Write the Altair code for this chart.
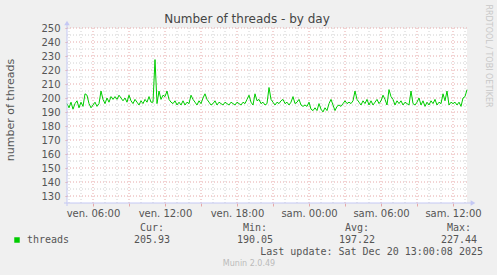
import altair as alt
import pandas as pd

# ---- data ----
threads = [
    196, 193, 197, 192, 196, 198, 193, 197, 194, 203,
    202, 196, 193, 195, 197, 194, 196, 205, 199, 196,
    200, 197, 201, 199, 201, 199, 202, 200, 198, 200,
    197, 202, 198, 196, 199, 197, 195, 198, 196, 199,
    197, 201, 197, 197, 227.44, 196, 205, 199, 202, 201,
    205, 199, 197, 196, 198, 195, 197, 195, 198, 195,
    197, 196, 202, 199, 197, 195, 198, 196, 200, 203,
    199, 197, 195, 196, 198, 195, 197, 196, 195, 197,
    196, 195, 197, 196, 195, 197, 196, 195, 197, 196,
    199, 202, 197, 195, 203, 198, 199, 196, 197, 195,
    196, 207.5, 199, 197, 195, 197, 196, 198, 199, 196,
    197, 195, 197, 201, 196, 197, 199, 195, 194, 195,
    194, 197, 192, 191, 193, 191, 196, 192, 190.05, 193,
    191, 196, 199, 195, 191, 194, 195, 194, 196, 198,
    196, 197, 196, 198, 205, 199, 197, 195, 198, 196,
    199, 195, 198, 195, 197, 199, 196, 198, 202, 199,
    195, 206, 201, 199, 195, 198, 196, 198, 195, 197,
    196, 195, 205, 196, 195, 197, 200, 195, 198, 194,
    197, 195, 198, 196, 199, 195, 197, 196, 203, 198,
    205, 195, 197, 196, 197, 195, 197, 194, 200, 201,
    205.93,
]
start_hour = 3 + 50 / 60          # ven. 03:50
step_hours = 10 / 60              # 10 minute samples
end_hour = start_hour + 400 / 12  # 33h20 window

y_major = list(range(130, 251, 10))
y_minor = list(range(135, 250, 10))
x_major = list(range(6, 37, 3))
x_minor = [h for h in range(4, 38) if h % 3 != 0]
label_hours = [6, 12, 18, 24, 30, 36]
label_texts = ["ven. 06:00", "ven. 12:00", "ven. 18:00",
               "sam. 00:00", "sam. 06:00", "sam. 12:00"]

title_text = "Number of threads - by day"
y_title = "number of threads"
series_name = "threads"
stat_names = ["Cur:", "Min:", "Avg:", "Max:"]
stat_values = ["205.93", "190.05", "197.22", "227.44"]
last_update = "Last update: Sat Dec 20 13:00:08 2025"
footer = "Munin 2.0.49"
side_text = "RRDTOOL / TOBI OETIKER"

# ---- build ----
df = pd.DataFrame({
    "hour": [start_hour + i * step_hours for i in range(len(threads))],
    "threads": threads,
})

xs = alt.Scale(domain=[start_hour, end_hour], nice=False, zero=False)
ys = alt.Scale(domain=[125, 250], nice=False, zero=False)

expr = "''"
for h, t in reversed(list(zip(label_hours, label_texts))):
    expr = f"datum.value == {h} ? '{t}' : ({expr})"

ax_x = alt.Axis(
    values=x_major, labelExpr=expr, grid=False, domain=False,
    ticks=True, tickSize=3, tickColor="#e6a8a8", title=None,
    labelFont="DejaVu Sans", labelFontSize=10, labelColor="#555555",
    labelPadding=2, labelFlush=False, labelOverlap=False)
ax_y = alt.Axis(
    values=y_major, grid=False, domain=False, ticks=True, tickSize=2,
    tickColor="#e6a8a8", title=None, labelFont="DejaVu Sans",
    labelFontSize=10, labelColor="#555555", labelPadding=5,
    labelFlush=False, labelOverlap=False)


def hrules(vals, color):
    return alt.Chart(pd.DataFrame({"v": vals})).mark_rule(
        color=color, strokeDash=[1, 2], strokeWidth=1
    ).encode(y=alt.Y("v:Q", scale=ys, axis=ax_y))


def vrules(vals, color):
    return alt.Chart(pd.DataFrame({"v": vals})).mark_rule(
        color=color, strokeDash=[1, 2], strokeWidth=1
    ).encode(x=alt.X("v:Q", scale=xs, axis=ax_x))


def txt(s, x, y, size=10, color="#555555", font="DejaVu Sans Mono",
        align="left", angle=0, baseline="middle"):
    return alt.Chart(pd.DataFrame({"t": [s]})).mark_text(
        fontSize=size, color=color, font=font, align=align,
        baseline=baseline, angle=angle
    ).encode(text="t:N", x=alt.value(x), y=alt.value(y))


grid = [
    hrules(y_minor, "#d0d0d0"),
    vrules(x_minor, "#d0d0d0"),
    hrules(y_major, "#e6a8a8"),
    vrules(x_major, "#e6a8a8"),
]

line = alt.Chart(df).mark_line(color="#00cc00", strokeWidth=1).encode(
    x=alt.X("hour:Q", scale=xs, axis=ax_x),
    y=alt.Y("threads:Q", scale=ys, axis=ax_y),
)

axis_col = "#c4c8f4"
axes = [
    alt.Chart(pd.DataFrame({"a": [0]})).mark_rule(color=axis_col).encode(
        x=alt.value(-3), x2=alt.value(405), y=alt.value(175)),
    alt.Chart(pd.DataFrame({"a": [0]})).mark_rule(color=axis_col).encode(
        x=alt.value(0), y=alt.value(-4), y2=alt.value(178)),
    alt.Chart(pd.DataFrame({"a": [0]})).mark_point(
        shape="triangle-right", filled=True, color=axis_col, size=30, opacity=1
    ).encode(x=alt.value(406), y=alt.value(175)),
    alt.Chart(pd.DataFrame({"a": [0]})).mark_point(
        shape="triangle-up", filled=True, color=axis_col, size=30, opacity=1
    ).encode(x=alt.value(0), y=alt.value(-5)),
]

texts = [
    txt(title_text, 180, -9, size=12, color="#444444", font="DejaVu Sans",
        align="center"),
    txt(y_title, -56, 82, size=11, color="#555555", font="DejaVu Sans",
        align="center", angle=270),
    txt(side_text, 421, 28, size=8, color="#c8c8c8", font="DejaVu Sans",
        align="center", angle=90),
    txt(series_name, -40, 212),
    txt(last_update, 416, 224, align="right"),
    txt(footer, 182, 236, size=8, color="#bbbbbb", font="DejaVu Sans",
        align="center"),
]
legend_sq = alt.Chart(pd.DataFrame({"a": [0]})).mark_square(
    color="#00cc00", size=30, opacity=1, filled=True
).encode(x=alt.value(-50), y=alt.value(212))

stat_x = [85, 188, 290, 392]
for name, val, sx in zip(stat_names, stat_values, stat_x):
    texts.append(txt(name, sx, 199.5, align="center"))
    texts.append(txt(val, sx, 212, align="center"))

chart = alt.layer(*grid, line, *axes, legend_sq, *texts).properties(
    width=400, height=175,
    autosize=alt.AutoSizeParams(type="none"),
    padding={"left": 67, "top": 28, "right": 30, "bottom": 72},
    background="#f0f0f0",
).configure_view(fill="white", stroke=None)

chart.save("out.html", embed_options={"renderer": "svg", "actions": False})
